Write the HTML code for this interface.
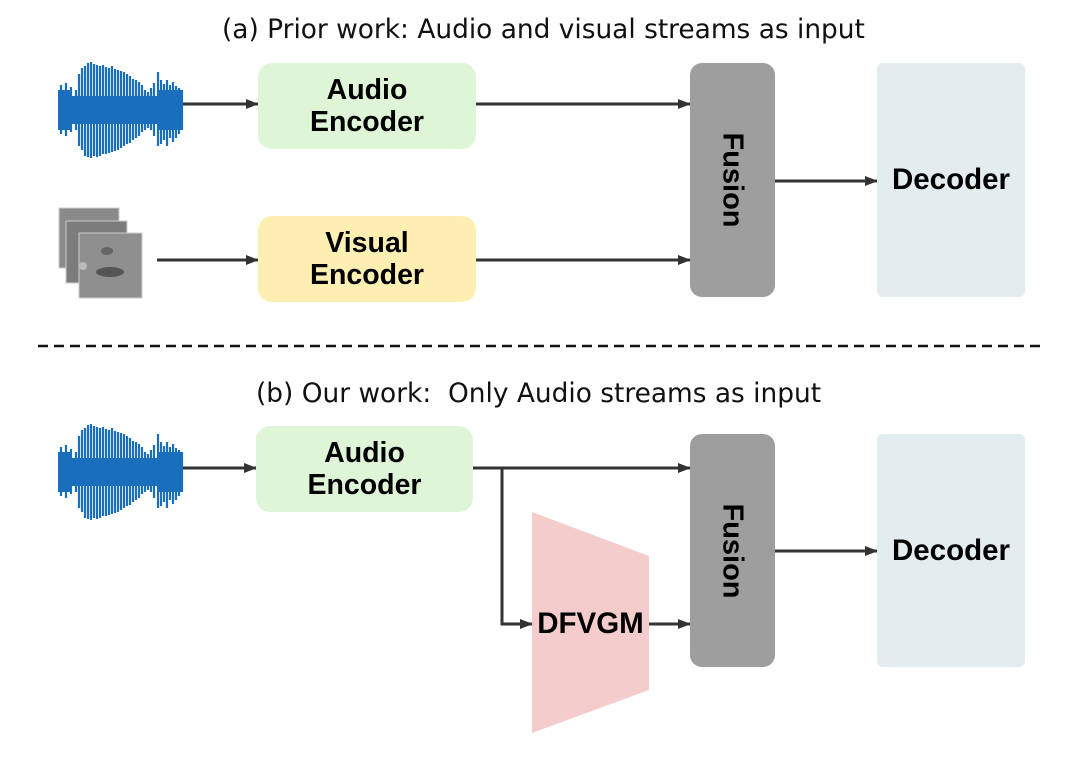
<!DOCTYPE html>
<html><head><meta charset="utf-8"><style>
body{margin:0;background:#fff;}
.wrap{position:relative;width:1080px;height:763px;overflow:hidden;font-family:"Liberation Sans",sans-serif;}
.t{position:absolute;font-family:"DejaVu Sans","Liberation Sans",sans-serif;font-size:26.4px;color:#111;white-space:nowrap;}
.box{position:absolute;display:flex;align-items:center;justify-content:center;text-align:center;font-weight:bold;font-size:28.5px;line-height:32px;color:#000;}
</style></head><body><div class="wrap">
<svg width="1080" height="763" style="position:absolute;left:0;top:0">
<defs>
<marker id="a" markerWidth="13" markerHeight="12" refX="12" refY="6" orient="auto" markerUnits="userSpaceOnUse"><path d="M0,1 L13,6 L0,11 z" fill="#333"/></marker>
<g id="wave" stroke="#1a6fbd" stroke-width="2.2">
<rect x="0" y="-14" width="125" height="28" fill="#1a6fbd" stroke="none"/>
<rect x="0" y="-20" width="12" height="40" fill="#1a6fbd" stroke="none"/>
<rect x="100" y="-20" width="25" height="40" fill="#1a6fbd" stroke="none"/>
<line x1="3" y1="-25" x2="3" y2="24"/><line x1="8" y1="-27" x2="8" y2="26"/><line x1="13" y1="-23" x2="13" y2="22"/>
<line x1="18" y1="-20" x2="18" y2="20"/><line x1="21" y1="-36" x2="21" y2="36"/><line x1="24" y1="-42" x2="24" y2="40"/>
<line x1="27" y1="-44" x2="27" y2="46"/><line x1="30" y1="-47" x2="30" y2="47"/><line x1="33" y1="-48" x2="33" y2="48"/>
<line x1="36" y1="-46" x2="36" y2="46"/><line x1="39" y1="-45" x2="39" y2="47"/><line x1="42" y1="-44" x2="42" y2="46"/>
<line x1="45" y1="-45" x2="45" y2="44"/><line x1="48" y1="-43" x2="48" y2="44"/><line x1="51" y1="-42" x2="51" y2="43"/>
<line x1="54" y1="-44" x2="54" y2="42"/><line x1="57" y1="-41" x2="57" y2="41"/><line x1="60" y1="-40" x2="60" y2="40"/>
<line x1="63" y1="-39" x2="63" y2="38"/><line x1="66" y1="-38" x2="66" y2="36"/><line x1="69" y1="-36" x2="69" y2="34"/>
<line x1="72" y1="-34" x2="72" y2="33"/><line x1="75" y1="-31" x2="75" y2="30"/><line x1="78" y1="-30" x2="78" y2="28"/>
<line x1="81" y1="-28" x2="81" y2="26"/><line x1="84" y1="-25" x2="84" y2="22"/><line x1="87" y1="-20" x2="87" y2="20"/>
<line x1="90" y1="-18" x2="90" y2="18"/><line x1="93" y1="-22" x2="93" y2="20"/><line x1="96" y1="-27" x2="96" y2="26"/>
<line x1="100" y1="-38" x2="100" y2="36"/><line x1="103" y1="-30" x2="103" y2="34"/><line x1="106" y1="-26" x2="106" y2="30"/>
<line x1="109" y1="-30" x2="109" y2="36"/><line x1="112" y1="-25" x2="112" y2="28"/><line x1="115" y1="-28" x2="115" y2="32"/>
<line x1="118" y1="-24" x2="118" y2="28"/><line x1="121" y1="-22" x2="121" y2="24"/><line x1="124" y1="-20" x2="124" y2="20"/>
</g>
</defs>
<use href="#wave" x="58" y="110"/>
<use href="#wave" x="58" y="472"/>
<rect x="59" y="208" width="60" height="60" fill="#8a8a8a" stroke="#ccc"/>
<rect x="66" y="221" width="61" height="62" fill="#7c7c7c" stroke="#ccc"/>
<rect x="79" y="233" width="63" height="65" fill="#8f8f8f" stroke="#ccc"/>
<ellipse cx="110" cy="272" rx="14" ry="5" fill="#555"/>
<ellipse cx="107" cy="251" rx="6" ry="4" fill="#666"/>
<ellipse cx="83" cy="266" rx="4" ry="4" fill="#bbb"/>
<g stroke="#333" stroke-width="3" fill="none" marker-end="url(#a)">
<line x1="183" y1="104" x2="258" y2="104"/>
<line x1="157" y1="260" x2="258" y2="260"/>
<line x1="476" y1="104" x2="690" y2="104"/>
<line x1="476" y1="260" x2="690" y2="260"/>
<line x1="775" y1="181" x2="877" y2="181"/>
<line x1="183" y1="468" x2="256" y2="468"/>
<line x1="473" y1="468" x2="690" y2="468"/>
<polyline points="473,468 502,468 502,624 532,624"/>
<line x1="649" y1="624" x2="690" y2="624"/>
<line x1="775" y1="551" x2="877" y2="551"/>
</g>
<line x1="38" y1="346" x2="1045" y2="346" stroke="#111" stroke-width="2.5" stroke-dasharray="10,6"/>
<polygon points="532,512 649,556 649,690 532,733" fill="#f5cccc"/>
</svg>
<div class="t" style="left:222px;top:14px">(a) Prior work: Audio and visual streams as input</div>
<div class="t" style="left:256px;top:378px">(b) Our work:&nbsp; Only Audio streams as input</div>
<div class="box" style="left:258px;top:63px;width:218px;height:86px;background:#dff5d8;border-radius:14px">Audio<br>Encoder</div>
<div class="box" style="left:258px;top:216px;width:218px;height:86px;background:#fdefb2;border-radius:14px">Visual<br>Encoder</div>
<div class="box" style="left:256px;top:426px;width:217px;height:86px;background:#dff5d8;border-radius:14px">Audio<br>Encoder</div>
<div class="box" style="left:690px;top:63px;width:85px;height:234px;background:#9e9e9e;border-radius:12px;font-size:29px"><span style="transform:rotate(90deg);display:inline-block">Fusion</span></div>
<div class="box" style="left:690px;top:434px;width:85px;height:233px;background:#9e9e9e;border-radius:12px;font-size:29px"><span style="transform:rotate(90deg);display:inline-block">Fusion</span></div>
<div class="box" style="left:877px;top:63px;width:148px;height:234px;background:#e3ecef;border-radius:6px;font-size:29.5px">Decoder</div>
<div class="box" style="left:877px;top:434px;width:148px;height:233px;background:#e3ecef;border-radius:6px;font-size:29.5px">Decoder</div>
<div class="box" style="left:525px;top:608px;width:131px;height:32px;font-size:29.5px">DFVGM</div>
</div></body></html>
